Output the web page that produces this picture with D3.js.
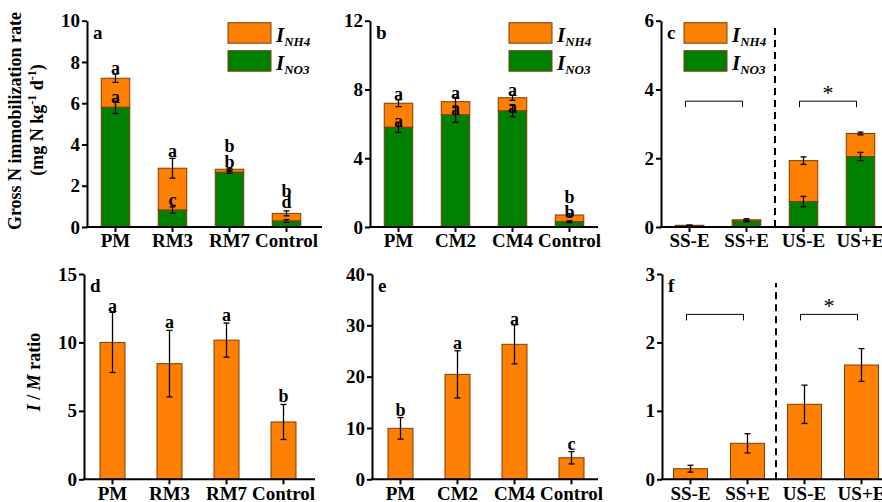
<!DOCTYPE html>
<html>
<head>
<meta charset="utf-8">
<script src="https://cdn.jsdelivr.net/npm/d3@7/dist/d3.min.js"></script>
<style>
  body { margin: 0; background: #fff; }
  svg text { font-family: "Liberation Serif", "Times New Roman", serif !important; font-weight: bold; }
</style>
</head>
<body>
<svg id="chart" width="882" height="502"></svg>
<script>
// categories
var catsA = ["PM", "RM3", "RM7", "Control"];
var catsB = ["PM", "CM2", "CM4", "Control"];
var catsC = ["SS-E", "SS+E", "US-E", "US+E"];

// a: gross N immobilization (stack top = total)
var aNO3 = [5.80, 0.82, 2.65, 0.29];
var aNO3Err = [0.30, 0.16, 0.05, 0.07];
var aTotal = [7.21, 2.85, 2.80, 0.66];
var aTotalErr = [0.20, 0.48, 0.05, 0.12];
var aUpper = ["a", "a", "b", "b"], aUpperAt = [7.42, 3.39, 3.64, 1.45];
var aLower = ["a", "c", "b", "d"], aLowerAt = [6.01, 1.02, 2.86, 0.92];

// b
var bNO3 = [5.80, 6.52, 6.75, 0.31];
var bNO3Err = [0.30, 0.43, 0.33, 0.05];
var bTotal = [7.20, 7.29, 7.52, 0.70];
var bTotalErr = [0.20, 0.25, 0.15, 0.07];
var bUpper = ["a", "a", "a", "b"], bUpperAt = [7.39, 7.46, 7.62, 1.38];
var bLower = ["a", "a", "a", "b"], bLowerAt = [5.83, 6.52, 6.65, 0.50];

// c
var cNO3 = [0.03, 0.17, 0.74, 2.05];
var cNO3Err = [0.01, 0.02, 0.15, 0.12];
var cTotal = [0.05, 0.21, 1.93, 2.72];
var cTotalErr = [0.01, 0.03, 0.11, 0.04];

// d, e, f: I/M ratio
var dRatio = [10.0, 8.45, 10.17, 4.19];
var dErr = [2.2, 2.43, 1.25, 1.28];
var dLetters = ["a", "a", "a", "b"], dLettersAt = [12.24, 11.03, 11.56, 5.67];

var eRatio = [9.93, 20.45, 26.3, 4.2];
var eErr = [2.1, 4.6, 3.8, 1.2];
var eLetters = ["b", "a", "a", "c"], eLettersAt = [12.3, 25.3, 30.0, 5.7];

var fRatio = [0.155, 0.526, 1.096, 1.67];
var fErr = [0.05, 0.14, 0.28, 0.24];

var orange = "#ff8000", green = "#008000", edge = "#7a3e0a";
var serif = "'Liberation Serif', 'Times New Roman', serif";

var svg = d3.select("#chart");

function panel(o) {
  var g = svg.append("g");
  var x = d3.scaleBand().domain(o.cats)
    .range([o.x0, o.x0 + 228]).paddingInner(0.5).paddingOuter(0.25);
  var y = d3.scaleLinear().domain(o.domain).range([o.base, o.top]);
  var cx = function(i) { return x(o.cats[i]) + x.bandwidth() / 2; };
  var bw = o.barWidth || x.bandwidth();

  // bars
  o.layers.forEach(function(L) {
    g.append("g").selectAll("rect")
      .data(L.hi)
      .enter().append("rect")
      .attr("x", function(d, i) { return cx(i) - bw / 2; })
      .attr("width", bw)
      .attr("y", function(d) { return y(d); })
      .attr("height", function(d, i) { return y(L.lo ? L.lo[i] : 0) - y(d); })
      .attr("fill", L.color)
      .attr("stroke", edge)
      .attr("stroke-width", 1);
  });

  // error bars
  o.errs.forEach(function(E) {
    var eg = g.append("g").attr("stroke", "#000").attr("stroke-width", 1.3);
    E.v.forEach(function(v, i) {
      var e = E.e[i], c = cx(i);
      eg.append("line").attr("x1", c).attr("x2", c).attr("y1", y(v - e)).attr("y2", y(v + e));
      eg.append("line").attr("x1", c - 3).attr("x2", c + 3).attr("y1", y(v - e)).attr("y2", y(v - e));
      eg.append("line").attr("x1", c - 3).attr("x2", c + 3).attr("y1", y(v + e)).attr("y2", y(v + e));
    });
  });

  // significance letters
  (o.letters || []).forEach(function(Lt) {
    g.append("g").selectAll("text")
      .data(Lt.t)
      .enter().append("text")
      .attr("x", function(d, i) { return cx(i); })
      .attr("y", function(d, i) { return y(Lt.at[i]); })
      .attr("text-anchor", "middle")
      .attr("font-size", 18)
      .text(function(d) { return d; });
  });

  // axes
  var ya = g.append("g").attr("transform", "translate(" + o.x0 + ",0)")
    .call(d3.axisLeft(y).tickValues(o.ticks).tickFormat(d3.format("d"))
      .tickSize(5).tickSizeOuter(0).tickPadding(2));
  var xa = g.append("g").attr("transform", "translate(0," + o.base + ")")
    .call(d3.axisBottom(x).tickSize(5).tickSizeOuter(0).tickPadding(2));
  xa.select(".domain").remove();
  g.append("line").attr("x1", o.x0 - 1).attr("x2", o.axisEnd)
    .attr("y1", o.base).attr("y2", o.base)
    .attr("stroke", "#000").attr("stroke-width", 2);
  [ya, xa].forEach(function(a) {
    a.attr("font-family", serif).attr("font-size", 19);
    a.selectAll("path,line").attr("stroke", "#000").attr("stroke-width", 2);
    a.selectAll("text").attr("fill", "#000").style("font-family", serif)
      .style("font-weight", "bold").style("font-size", "19px");
  });

  // panel letter
  g.append("text").attr("x", o.x0 + 6).attr("y", o.top + 18)
    .attr("font-size", 19).text(o.name);

  return { x: x, y: y, cx: cx, g: g };
}

function legend(x0, y0) {
  var items = [["NH4", orange], ["NO3", green]];
  var lg = svg.append("g");
  items.forEach(function(it, i) {
    var yy = y0 + i * 28;
    lg.append("rect").attr("x", x0).attr("y", yy).attr("width", 43).attr("height", 20.5)
      .attr("fill", it[1]).attr("stroke", edge).attr("stroke-width", 1);
    var t = lg.append("text").attr("x", x0 + 48).attr("y", yy + 19)
      .attr("font-style", "italic").attr("font-size", 21);
    t.append("tspan").text("I");
    t.append("tspan").attr("dy", 4).attr("font-size", 13).text(it[0]);
  });
}

function bracket(p, i, j, at, star) {
  var yb = p.y(at), x1 = p.cx(i) - 4, x2 = p.cx(j) - 4;
  p.g.append("path")
    .attr("d", "M" + x1 + "," + (yb + 6) + "V" + yb + "H" + x2 + "V" + (yb + 6))
    .attr("fill", "none").attr("stroke", "#000").attr("stroke-width", 1);
  if (star) {
    p.g.append("text").attr("x", (x1 + x2) / 2).attr("y", yb - 1)
      .attr("text-anchor", "middle").style("font-weight", "normal")
      .attr("font-size", 22).text("*");
  }
}

function divider(p, yTop) {
  var xm = (p.cx(1) + p.cx(2)) / 2;
  p.g.append("line").attr("x1", xm).attr("x2", xm)
    .attr("y1", p.y(0)).attr("y2", yTop)
    .attr("stroke", "#000").attr("stroke-width", 2).attr("stroke-dasharray", "7,5");
}

// ---- top row
var pa = panel({ name: "a", cats: catsA, x0: 87, axisEnd: 322, base: 227, top: 20.7,
  domain: [0, 10], ticks: [0, 2, 4, 6, 8, 10],
  layers: [{ hi: aTotal, lo: aNO3, color: orange }, { hi: aNO3, color: green }],
  errs: [{ v: aTotal, e: aTotalErr }, { v: aNO3, e: aNO3Err }],
  letters: [{ t: aUpper, at: aUpperAt }, { t: aLower, at: aLowerAt }] });
legend(228, 22.7);

var pb = panel({ name: "b", cats: catsB, x0: 370, axisEnd: 598, base: 227, top: 20.7,
  domain: [0, 12], ticks: [0, 4, 8, 12],
  layers: [{ hi: bTotal, lo: bNO3, color: orange }, { hi: bNO3, color: green }],
  errs: [{ v: bTotal, e: bTotalErr }, { v: bNO3, e: bNO3Err }],
  letters: [{ t: bUpper, at: bUpperAt }, { t: bLower, at: bLowerAt }] });
legend(509, 22.7);

var pc = panel({ name: "c", cats: catsC, x0: 661, axisEnd: 882, base: 227, top: 20.7,
  domain: [0, 6], ticks: [0, 2, 4, 6],
  layers: [{ hi: cTotal, lo: cNO3, color: orange }, { hi: cNO3, color: green }],
  errs: [{ v: cTotal, e: cTotalErr }, { v: cNO3, e: cNO3Err }] });
legend(684, 22.7);
divider(pc, 28);
bracket(pc, 0, 1, 3.66, false);
bracket(pc, 2, 3, 3.66, true);

// ---- bottom row
var pd = panel({ name: "d", cats: catsA, x0: 84, axisEnd: 315, base: 479.3, top: 274,
  domain: [0, 15], ticks: [0, 5, 10, 15], barWidth: 25,
  layers: [{ hi: dRatio, color: orange }],
  errs: [{ v: dRatio, e: dErr }],
  letters: [{ t: dLetters, at: dLettersAt }] });

var pe = panel({ name: "e", cats: catsB, x0: 372, axisEnd: 598, base: 479.3, top: 274,
  domain: [0, 40], ticks: [0, 10, 20, 30, 40], barWidth: 25,
  layers: [{ hi: eRatio, color: orange }],
  errs: [{ v: eRatio, e: eErr }],
  letters: [{ t: eLetters, at: eLettersAt }] });

var pf = panel({ name: "f", cats: catsC, x0: 662, axisEnd: 882, base: 479.3, top: 274,
  domain: [0, 3], ticks: [0, 1, 2, 3], barWidth: 34,
  layers: [{ hi: fRatio, color: orange }],
  errs: [{ v: fRatio, e: fErr }] });
divider(pf, 283);
bracket(pf, 0, 1, 2.41, false);
bracket(pf, 2, 3, 2.41, true);

// ---- y axis titles
svg.append("text").attr("transform", "translate(21,121) rotate(-90)")
  .attr("text-anchor", "middle").attr("font-size", 18)
  .text("Gross N immobilization rate");
var t2 = svg.append("text").attr("transform", "translate(43,120) rotate(-90)")
  .attr("text-anchor", "middle").attr("font-size", 18);
t2.append("tspan").text("(mg N kg");
t2.append("tspan").attr("dy", -7).attr("font-size", 12).text("-1");
t2.append("tspan").attr("dy", 7).text(" d");
t2.append("tspan").attr("dy", -7).attr("font-size", 12).text("-1");
t2.append("tspan").attr("dy", 7).text(")");

var t3 = svg.append("text").attr("transform", "translate(40,372) rotate(-90)")
  .attr("text-anchor", "middle").attr("font-size", 18);
t3.append("tspan").attr("font-style", "italic").text("I");
t3.append("tspan").text(" / ");
t3.append("tspan").attr("font-style", "italic").text("M");
t3.append("tspan").text(" ratio");
</script>
</body>
</html>
